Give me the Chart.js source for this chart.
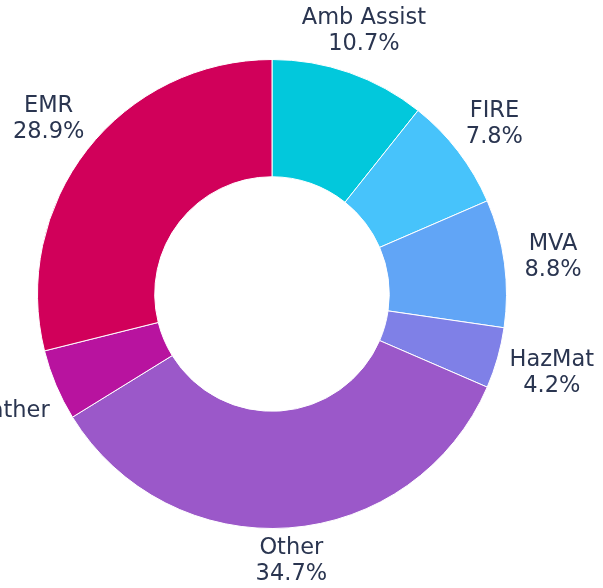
<!DOCTYPE html>
<html>
<head>
<meta charset="utf-8">
<script src="https://cdn.jsdelivr.net/npm/chart.js@4/dist/chart.umd.min.js"></script>
<style>
  html, body { margin: 0; padding: 0; background: #ffffff; overflow: hidden; }
  canvas { display: block; }
</style>
</head>
<body>
<canvas id="c" width="603" height="588"></canvas>
<script>
const categories = ["Amb Assist", "FIRE", "MVA", "HazMat", "Other", "Weather", "EMR"];
const shares = [10.7, 7.8, 8.8, 4.2, 34.7, 4.9, 28.9];
const sliceColors = ["#02c8dc", "#47c3fb", "#61a5f6", "#7f80e7", "#9b58c9", "#b8139f", "#d1005a"];

const FONT = '22.5px "DejaVu Sans", sans-serif';
const TEXT_COLOR = "#2a3550";
const LINE_H = 26;

const outsideLabels = {
  id: "outsideLabels",
  afterDatasetsDraw(chart) {
    const ctx = chart.ctx;
    const meta = chart.getDatasetMeta(0);
    const data = chart.data.datasets[0].data;
    const total = data.reduce((a, b) => a + b, 0);
    ctx.save();
    ctx.font = FONT;
    ctx.fillStyle = TEXT_COLOR;
    ctx.textAlign = "center";
    ctx.textBaseline = "middle";
    meta.data.forEach((arc, i) => {
      const p = arc.getProps(["x", "y", "startAngle", "endAngle", "outerRadius"], true);
      const mid = (p.startAngle + p.endAngle) / 2;
      const cx = Math.cos(mid), cy = Math.sin(mid);
      const l1 = chart.data.labels[i];
      const l2 = (data[i] / total * 100).toFixed(1) + "%";
      const w = Math.max(ctx.measureText(l1).width, ctx.measureText(l2).width);
      const dist = p.outerRadius + 32 + 0.6 * Math.abs(cx) * w / 2;
      const lx = p.x + cx * dist;
      const ly = p.y + cy * dist;
      if (lx - w / 2 >= 0 && lx + w / 2 <= chart.width) {
        ctx.fillText(l1, lx, ly - LINE_H / 2);
        ctx.fillText(l2, lx, ly + LINE_H / 2);
      } else {
        // clipped label: only the name is kept, centred on the label point
        ctx.fillText(l1, lx, ly + 3);
      }
    });
    ctx.restore();
  }
};

new Chart(document.getElementById("c"), {
  type: "doughnut",
  data: {
    labels: categories,
    datasets: [{
      data: shares,
      backgroundColor: sliceColors,
      borderColor: "#ffffff",
      borderWidth: 1,
      hoverOffset: 0
    }]
  },
  options: {
    responsive: false,
    animation: false,
    events: [],
    cutout: "50%",
    layout: { padding: { left: 37, right: 96, top: 59, bottom: 59 } },
    plugins: { legend: { display: false }, tooltip: { enabled: false } }
  },
  plugins: [outsideLabels]
});
</script>
</body>
</html>
